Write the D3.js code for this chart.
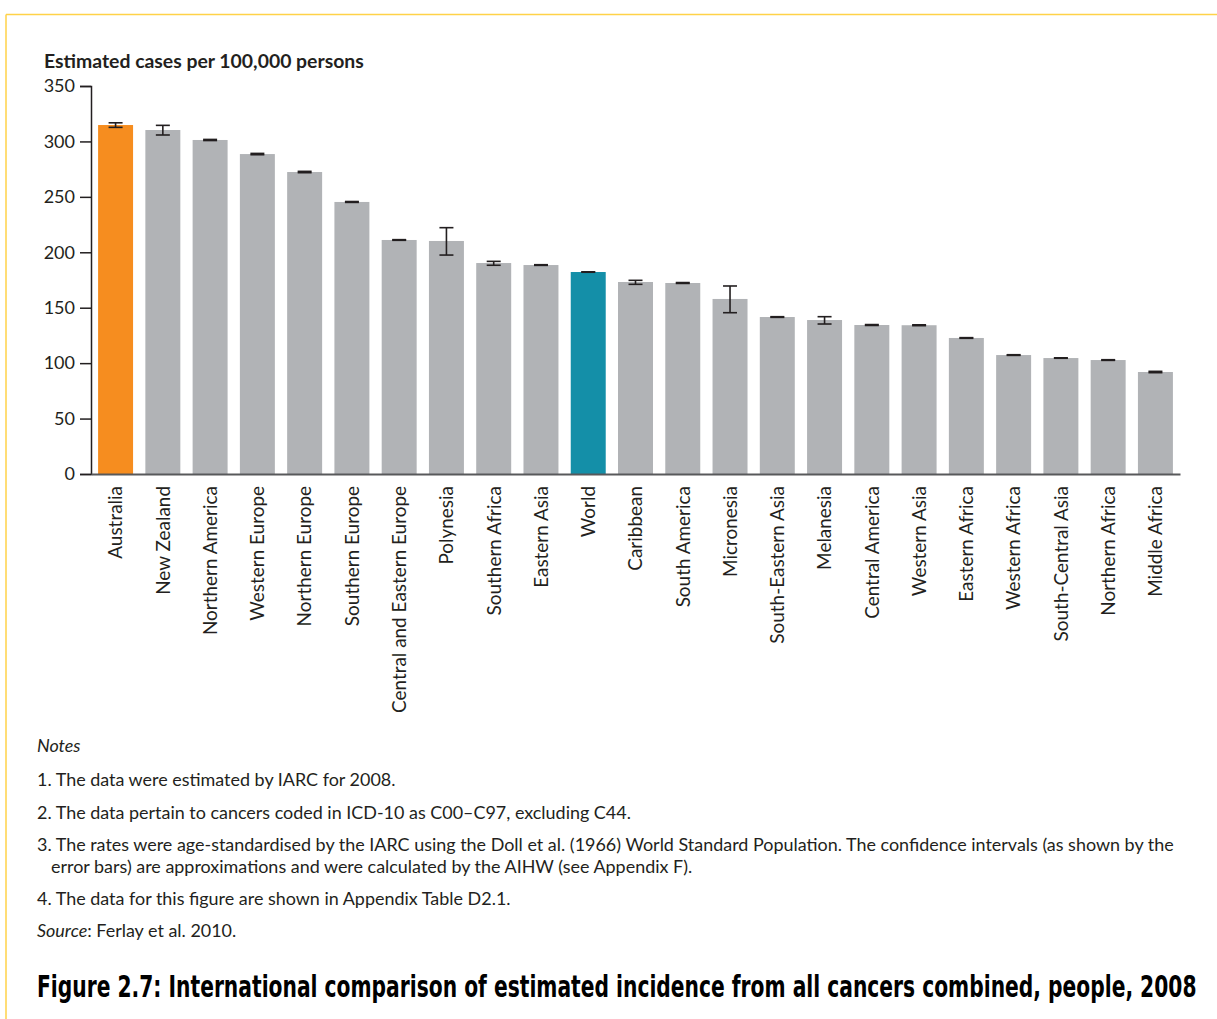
<!DOCTYPE html>
<html>
<head>
<meta charset="utf-8">
<script src="https://cdn.jsdelivr.net/npm/d3@7"></script>
<style>
  html, body { margin: 0; padding: 0; background: #fff; }
  svg { display: block; }
</style>
</head>
<body>
<svg id="chart" width="1217" height="1019"></svg>
<script>
// ---------- DATA ----------
const categories = ["Australia","New Zealand","Northern America","Western Europe","Northern Europe","Southern Europe","Central and Eastern Europe","Polynesia","Southern Africa","Eastern Asia","World","Caribbean","South America","Micronesia","South-Eastern Asia","Melanesia","Central America","Western Asia","Eastern Africa","Western Africa","South-Central Asia","Northern Africa","Middle Africa"];
const values = [314.8, 310.3, 301.3, 288.6, 272.4, 245.4, 211.1, 210.2, 190.3, 188.5, 182.2, 173.2, 172.3, 157.9, 141.6, 138.9, 134.4, 134.2, 122.7, 107.3, 104.6, 102.8, 92.0];
const lower  = [312.7, 305.8, 300.8, 288.0, 271.8, 245.0, 210.8, 197.5, 188.3, 188.2, 182.0, 171.1, 171.9, 145.5, 141.3, 135.3, 134.0, 133.8, 122.4, 107.0, 104.4, 102.5, 91.4];
const upper  = [316.8, 314.5, 301.8, 289.2, 273.0, 245.8, 211.4, 222.2, 191.8, 188.8, 182.4, 174.7, 172.7, 169.6, 141.9, 141.9, 134.8, 134.6, 123.0, 107.6, 104.8, 103.1, 92.6];
const highlight = {"Australia": "#F68D1F", "World": "#148FA8"};
const yTicks = [0, 50, 100, 150, 200, 250, 300, 350];
const yTitle = "Estimated cases per 100,000 persons";
const notesHeading = "Notes";
const notes = [
  ["1. The data were estimated by IARC for 2008."],
  ["2. The data pertain to cancers coded in ICD-10 as C00\u2013C97, excluding C44."],
  ["3. The rates were age-standardised by the IARC using the Doll et al. (1966) World Standard Population. The confidence intervals (as shown by the",
   "error bars) are approximations and were calculated by the AIHW (see Appendix F)."],
  ["4. The data for this figure are shown in Appendix Table D2.1."]
];
const sourceLabel = "Source";
const sourceText = ": Ferlay et al. 2010.";
const figTitle = "Figure 2.7: International comparison of estimated incidence from all cancers combined, people, 2008";

// ---------- LAYOUT ----------
const W = 1217, H = 1019;
const svg = d3.select("#chart");
const bodyFont = "Lato, 'Open Sans', 'Noto Sans', sans-serif";
const gray = "#B1B3B6";
const ink = "#231F20";

// frame (yellow border)
svg.append("line").attr("x1", 6).attr("x2", W).attr("y1", 14.5).attr("y2", 14.5)
  .attr("stroke", "#FFD248").attr("stroke-width", 1.5);
svg.append("line").attr("x1", 6).attr("x2", 6).attr("y1", 14.5).attr("y2", H)
  .attr("stroke", "#FFD248").attr("stroke-width", 1.5);

const plot = {left: 91, right: 1180, top: 86, bottom: 474};

const x = d3.scaleBand().domain(categories).range([plot.left, plot.right])
  .paddingInner(0.26).paddingOuter(0.15);
const y = d3.scaleLinear().domain([0, 350]).range([plot.bottom, plot.top]);

function fitFont(sel, target) {
  const n = sel.node();
  const fs = parseFloat(sel.attr("font-size"));
  const w = n.getComputedTextLength();
  if (w > 0) sel.attr("font-size", (fs * target / w).toFixed(2));
  return sel;
}

// bars
svg.append("g").selectAll("rect").data(categories).join("rect")
  .attr("x", d => x(d))
  .attr("width", x.bandwidth())
  .attr("y", (d, i) => y(values[i]))
  .attr("height", (d, i) => y(0) - y(values[i]))
  .attr("fill", d => highlight[d] || gray);

// error bars
const eb = svg.append("g").attr("stroke", ink).attr("stroke-width", 1.6);
const capW = 14;
categories.forEach((c, i) => {
  const cx = x(c) + x.bandwidth() / 2;
  eb.append("line").attr("x1", cx).attr("x2", cx).attr("y1", y(lower[i])).attr("y2", y(upper[i]));
  eb.append("line").attr("x1", cx - capW/2).attr("x2", cx + capW/2).attr("y1", y(lower[i])).attr("y2", y(lower[i]));
  eb.append("line").attr("x1", cx - capW/2).attr("x2", cx + capW/2).attr("y1", y(upper[i])).attr("y2", y(upper[i]));
});

// y axis
const yAxis = svg.append("g").attr("transform", `translate(${plot.left},0)`)
  .call(d3.axisLeft(y).tickValues(yTicks).tickSize(11).tickSizeOuter(11).tickPadding(5).tickFormat(d3.format("d")));
yAxis.selectAll("path, line").attr("stroke", ink).attr("stroke-width", 1.5);
yAxis.selectAll("text").attr("font-family", bodyFont).attr("font-size", 18).attr("fill", ink);

// x axis
const xAxis = svg.append("g").attr("transform", `translate(0,${plot.bottom})`)
  .call(d3.axisBottom(x).tickSize(0).tickSizeOuter(0));
xAxis.select(".domain").attr("stroke", "#58595B").attr("stroke-width", 2);
const xl = xAxis.selectAll("text")
  .attr("font-family", bodyFont).attr("font-size", 16).attr("fill", ink)
  .attr("transform", "rotate(-90)")
  .attr("text-anchor", "end")
  .attr("x", -12).attr("y", 0).attr("dy", "0.36em");
{
  const longest = xl.filter(d => d === "Central and Eastern Europe");
  fitFont(longest, 227);
  xl.attr("font-size", longest.attr("font-size"));
}

// y axis title
fitFont(svg.append("text").attr("x", 44).attr("y", 68)
  .attr("font-family", bodyFont).attr("font-weight", "bold").attr("font-size", 16)
  .attr("fill", ink).text(yTitle), 320);

// notes
const notesG = svg.append("g").attr("font-family", bodyFont).attr("fill", ink);
const noteFs = 14;
notesG.append("text").attr("x", 37).attr("y", 752).attr("font-size", noteFs)
  .attr("font-style", "italic").text(notesHeading);
const lineYs = [[786], [819], [851, 873], [905]];
let ref = null;
notes.forEach((lines, i) => {
  lines.forEach((t, j) => {
    const tx = notesG.append("text").attr("x", j === 0 ? 37 : 51).attr("y", lineYs[i][j])
      .attr("font-size", noteFs).text(t);
    if (i === 2 && j === 0) ref = tx;
  });
});
fitFont(ref, 1138);
const nfs = ref.attr("font-size");
notesG.selectAll("text").attr("font-size", nfs);
const src = notesG.append("text").attr("x", 37).attr("y", 937).attr("font-size", nfs);
src.append("tspan").attr("font-style", "italic").text(sourceLabel);
src.append("tspan").text(sourceText);

// figure title (condensed bold via horizontal scaling)
{
  const t = svg.append("text").attr("x", 0).attr("y", 0)
    .attr("font-family", "'Liberation Sans Narrow', 'DejaVu Sans Condensed', Roboto, sans-serif")
    .attr("font-weight", "bold").attr("font-size", 30).attr("fill", "#000")
    .text(figTitle);
  const w = t.node().getComputedTextLength();
  const sx = w > 0 ? 1160 / w : 1;
  t.attr("transform", `translate(37,997) scale(${sx.toFixed(4)},1)`);
}
</script>
</body>
</html>
